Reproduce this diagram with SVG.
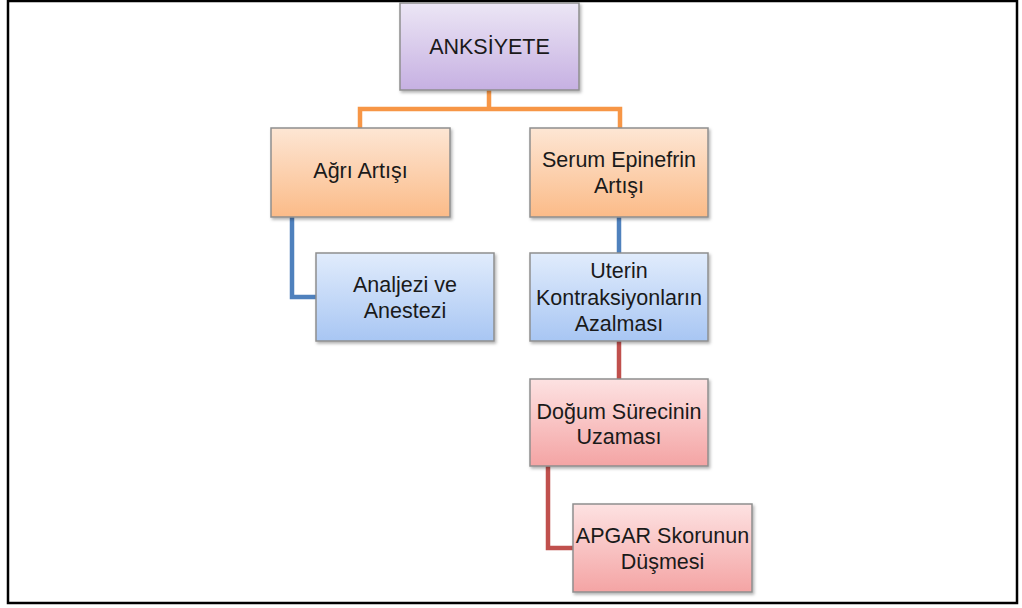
<svg xmlns="http://www.w3.org/2000/svg" width="1022" height="608" viewBox="0 0 1022 608">
<defs>
<linearGradient id="gPurple" x1="0" y1="0" x2="0" y2="1"><stop offset="0" stop-color="#ece6f5"/><stop offset="1" stop-color="#c6b0e2"/></linearGradient>
<linearGradient id="gOrange" x1="0" y1="0" x2="0" y2="1"><stop offset="0" stop-color="#fde6d4"/><stop offset="1" stop-color="#fbbb88"/></linearGradient>
<linearGradient id="gBlue" x1="0" y1="0" x2="0" y2="1"><stop offset="0" stop-color="#e1ecfc"/><stop offset="1" stop-color="#a8c6f3"/></linearGradient>
<linearGradient id="gRed" x1="0" y1="0" x2="0" y2="1"><stop offset="0" stop-color="#fde2e2"/><stop offset="1" stop-color="#f4a4a4"/></linearGradient>
<filter id="sh" x="-10%" y="-10%" width="125%" height="130%"><feDropShadow dx="1.5" dy="2" stdDeviation="1.5" flood-color="#000" flood-opacity="0.3"/></filter>
</defs>
<style>
.box{stroke:#8e8e8e;stroke-width:1.5;filter:url(#sh)}
.t{font-family:"Liberation Sans",Arial,sans-serif;font-size:21.5px;fill:#1a1a1a;text-anchor:middle}
.c{fill:none;stroke-width:4.5;stroke-linejoin:miter}
</style>
<rect x="8" y="1" width="1009" height="602" fill="#fff" stroke="#000" stroke-width="2.5"/>
<g id="connectors">
<path class="c" stroke="#f79646" d="M489 90 V109 M360 128 V109 H620 V128"/>
<path class="c" stroke="#4f81bd" d="M292 217 V297 H316"/>
<path class="c" stroke="#4f81bd" d="M619 217 V253"/>
<path class="c" stroke="#c0504d" d="M619 341 V379"/>
<path class="c" stroke="#c0504d" d="M548 466 V548 H573"/>
</g>
<g id="n-anksiyete"><rect class="box" x="400" y="3" width="179" height="87" fill="url(#gPurple)"/><text class="t" x="489.5" y="54">ANKSİYETE</text></g>
<g id="n-agri"><rect class="box" x="271" y="128" width="179" height="89" fill="url(#gOrange)"/><text class="t" x="360.5" y="178">Ağrı Artışı</text></g>
<g id="n-serum"><rect class="box" x="530" y="128" width="178" height="89" fill="url(#gOrange)"/><text class="t" x="619" y="167">Serum Epinefrin</text><text class="t" x="619" y="193">Artışı</text></g>
<g id="n-analjezi"><rect class="box" x="316" y="253" width="178" height="88" fill="url(#gBlue)"/><text class="t" x="405" y="292">Analjezi ve</text><text class="t" x="405" y="318">Anestezi</text></g>
<g id="n-uterin"><rect class="box" x="530" y="253" width="178" height="88" fill="url(#gBlue)"/><text class="t" x="619" y="278">Uterin</text><text class="t" x="619" y="305">Kontraksiyonların</text><text class="t" x="619" y="331">Azalması</text></g>
<g id="n-dogum"><rect class="box" x="530" y="379" width="178" height="87" fill="url(#gRed)"/><text class="t" x="619" y="419">Doğum Sürecinin</text><text class="t" x="619" y="444">Uzaması</text></g>
<g id="n-apgar"><rect class="box" x="573" y="504" width="179" height="88" fill="url(#gRed)"/><text class="t" x="662.5" y="543">APGAR Skorunun</text><text class="t" x="662.5" y="569">Düşmesi</text></g>
</svg>
